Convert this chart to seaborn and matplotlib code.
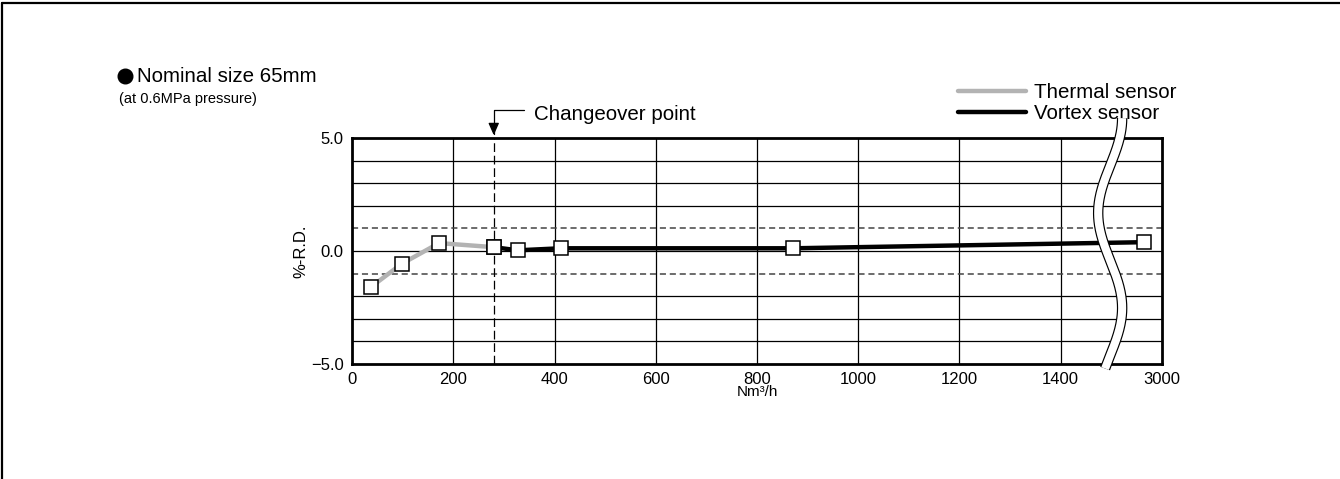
import numpy as np
import pandas as pd
import matplotlib
matplotlib.use("Agg")
import matplotlib.pyplot as plt
from matplotlib.lines import Line2D
import seaborn as sns

# data
thermal_x = [37, 98, 172, 280]
thermal_y = [-1.60, -0.57, 0.35, 0.17]
vortex_x = [280, 327, 412, 872, 2710]
vortex_y = [0.17, 0.03, 0.12, 0.12, 0.39]
changeover_x = 280
x_ticks = [0, 200, 400, 600, 800, 1000, 1200, 1400, 3000]
y_ticks = [-5.0, 0.0, 5.0]
y_grid = [-4, -3, -2, 2, 3, 4]
y_band = [-1, 1]

sns.set_style("white")
plt.rcParams["font.family"] = ["Liberation Sans", "DejaVu Sans"]
plt.rcParams["axes.unicode_minus"] = True
plt.rcParams["text.color"] = "black"
plt.rcParams["axes.labelcolor"] = "black"
plt.rcParams["xtick.color"] = "black"
plt.rcParams["ytick.color"] = "black"

df = pd.concat([
    pd.DataFrame({"flow": thermal_x, "rd": thermal_y, "sensor": "Thermal sensor"}),
    pd.DataFrame({"flow": vortex_x, "rd": vortex_y, "sensor": "Vortex sensor"}),
])

fig = plt.figure(figsize=(13.4, 4.79), dpi=100)
ax = fig.add_axes([352 / 1340, 1 - 364 / 479, 810 / 1340, 226 / 479])


# broken axis: 1400..3000 squeezed into one grid cell
def fwd(x):
    x = np.asarray(x, dtype=float)
    return np.where(x <= 1400, x, 1400 + (x - 1400) / 8)


def inv(x):
    x = np.asarray(x, dtype=float)
    return np.where(x <= 1400, x, 1400 + (x - 1400) * 8)


ax.set_xscale("function", functions=(fwd, inv))
ax.set_xlim(0, 3000)
ax.set_ylim(-5, 5)

# grid
for xv in x_ticks[1:-1]:
    ax.axvline(xv, color="black", lw=0.9, zorder=1)
for yv in y_grid + [0]:
    ax.axhline(yv, color="black", lw=0.9, zorder=1)
for yv in y_band:
    ax.axhline(yv, color="#444444", lw=1.1, ls=(0, (4, 2.5)), zorder=1)
ax.axvline(changeover_x, color="black", lw=0.9, ls=(0, (7, 3)), zorder=1)

sns.lineplot(data=df, x="flow", y="rd", hue="sensor",
             palette={"Thermal sensor": "#b3b3b3", "Vortex sensor": "black"},
             lw=3.2, marker="s", markersize=9.5, markerfacecolor="white",
             markeredgecolor="black", markeredgewidth=1.1,
             legend=False, ax=ax, zorder=3)

ax.set_xticks(x_ticks)
ax.set_xticklabels([str(v) for v in x_ticks])
ax.set_yticks(y_ticks)
ax.set_yticklabels(["\u22125.0", "0.0", "5.0"])
ax.tick_params(length=0, labelsize=12, pad=6)
ax.set_xlabel("Nm³/h", fontsize=11, labelpad=-1.5)
ax.set_ylabel("%-R.D.", fontsize=12, labelpad=2)
for s in ax.spines.values():
    s.set_linewidth(2.0)
    s.set_color("black")

# wavy break marker
yy = np.linspace(1.088, -0.02, 200)
xx = 0.936 + 0.0148 * np.cos(2 * np.pi * (1.088 - yy) / 0.84)
ax.plot(xx, yy, transform=ax.transAxes, color="black", lw=7.5,
        solid_capstyle="butt", clip_on=False, zorder=5)
ax.plot(xx, yy, transform=ax.transAxes, color="white", lw=5.8,
        solid_capstyle="butt", clip_on=False, zorder=6)

# changeover annotation
ax.annotate("Changeover point", xy=(changeover_x, 5.0), xycoords="data",
            xytext=(534 / 1340, 1 - 115 / 479), textcoords="figure fraction",
            ha="left", va="center", fontsize=14.8,
            arrowprops=dict(arrowstyle="-|>,head_length=0.5,head_width=0.22",
                            color="black", lw=0.9, shrinkA=5, shrinkB=2,
                            relpos=(0, 0.75),
                            connectionstyle="angle,angleA=0,angleB=90,rad=0"))

# legend
handles = [Line2D([], [], color="#b3b3b3", lw=3.2),
           Line2D([], [], color="black", lw=3.2)]
ax.legend(handles, ["Thermal sensor", "Vortex sensor"], loc="upper left",
          bbox_to_anchor=(958 / 1340, 1 - 83 / 479), bbox_transform=fig.transFigure,
          frameon=False, fontsize=14.8, handlelength=3.3, handletextpad=0.4,
          labelspacing=0.12, borderpad=0, borderaxespad=0)

# titles
fig.add_artist(Line2D([124.5 / 1340], [1 - 76 / 479], transform=fig.transFigure,
                      marker="o", ms=10.5, color="black", lw=0))
fig.text(137 / 1340, 1 - 76 / 479, "Nominal size 65mm", fontsize=14.8, va="center")
fig.text(119 / 1340, 1 - 99 / 479, "(at 0.6MPa pressure)", fontsize=10.5, va="center")

# outer frame (top and left edges only visible)
fig.add_artist(Line2D([2 / 1340, 1], [1 - 3 / 479, 1 - 3 / 479],
                      transform=fig.transFigure, color="black", lw=1.6))
fig.add_artist(Line2D([2 / 1340, 2 / 1340], [0, 1 - 3 / 479],
                      transform=fig.transFigure, color="black", lw=1.6))

fig.savefig("out.png", dpi=100, facecolor="white")
